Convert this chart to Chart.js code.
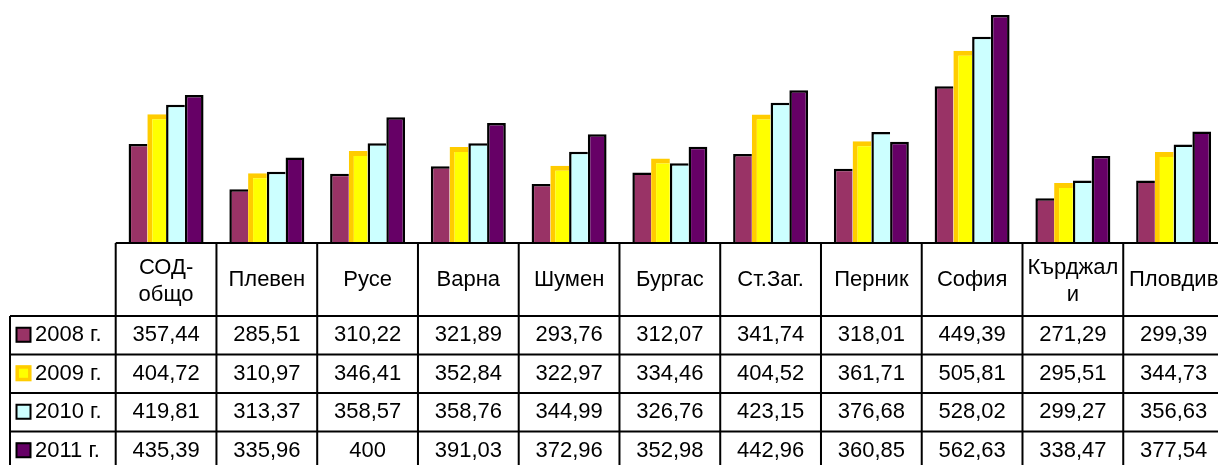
<!DOCTYPE html>
<html>
<head>
<meta charset="utf-8">
<script src="https://cdn.jsdelivr.net/npm/chart.js@4"></script>
<style>
html, body { margin:0; padding:0; background:#fff; overflow:hidden; }
#wrap { width:1226px; height:465px; }
</style>
</head>
<body>
<div id="wrap"><canvas id="chartSOD" width="1226" height="465"></canvas></div>
<script>
var categories = [['СОД-', 'общо'], 'Плевен', 'Русе', 'Варна', 'Шумен', 'Бургас', 'Ст.Заг.', 'Перник', 'София', ['Кърджал', 'и'], 'Пловдив'];
var seriesNames = ['2008 г.', '2009 г.', '2010 г.', '2011 г.'];
var v2008 = [357.44, 285.51, 310.22, 321.89, 293.76, 312.07, 341.74, 318.01, 449.39, 271.29, 299.39];
var v2009 = [404.72, 310.97, 346.41, 352.84, 322.97, 334.46, 404.52, 361.71, 505.81, 295.51, 344.73];
var v2010 = [419.81, 313.37, 358.57, 358.76, 344.99, 326.76, 423.15, 376.68, 528.02, 299.27, 356.63];
var v2011 = [435.39, 335.96, 400, 391.03, 372.96, 352.98, 442.96, 360.85, 562.63, 338.47, 377.54];

var FONT = '22px "Liberation Sans", Arial, sans-serif';

// table under the bars, columns follow the x scale
var dataTable = {
  id: 'dataTable',
  afterDraw: function(chart){
    var ctx = chart.ctx;
    var xs = chart.scales.x;
    var step = xs.getPixelForValue(1) - xs.getPixelForValue(0);
    var top = chart.chartArea.bottom;
    var rows = [top, 316, 354.5, 393, 431.5, 470];
    var first = xs.getPixelForValue(0) - step/2;
    var last = xs.getPixelForValue(categories.length - 1) + step/2;
    ctx.save();
    ctx.strokeStyle = '#000';
    ctx.lineWidth = 2;
    ctx.beginPath();
    ctx.moveTo(first, rows[0]); ctx.lineTo(last, rows[0]);
    for (var r = 1; r < rows.length; r++){
      ctx.moveTo(10, rows[r]); ctx.lineTo(last, rows[r]);
    }
    ctx.moveTo(10, rows[1]); ctx.lineTo(10, rows[5]);
    for (var c = 0; c <= categories.length; c++){
      var bx = first + c*step;
      ctx.moveTo(bx, rows[0]); ctx.lineTo(bx, rows[5]);
    }
    ctx.stroke();

    ctx.fillStyle = '#000';
    ctx.font = FONT;
    ctx.textAlign = 'center';
    ctx.textBaseline = 'middle';
    categories.forEach(function(lab, i){
      var cx = xs.getPixelForValue(i);
      if (Array.isArray(lab)){
        ctx.fillText(lab[0], cx, 268);
        ctx.fillText(lab[1], cx, 295);
      } else {
        ctx.fillText(lab, cx, 280);
      }
    });
    chart.data.datasets.forEach(function(ds, d){
      var cy = (rows[d+1] + rows[d+2]) / 2;
      ds.data.forEach(function(v, i){
        ctx.fillStyle = '#000';
        ctx.textAlign = 'center';
        ctx.fillText(String(v).replace('.', ','), xs.getPixelForValue(i), cy);
      });
      // legend key
      ctx.fillStyle = ds.backgroundColor;
      ctx.fillRect(16, cy - 8, 15, 15);
      ctx.strokeStyle = ds.borderColor;
      ctx.lineWidth = d == 1 ? 3.5 : 2;
      ctx.strokeRect(16.5 + (d == 1 ? 0.7 : 0), cy - 7.5 + (d == 1 ? 0.7 : 0), 14 - (d == 1 ? 1.4 : 0), 14 - (d == 1 ? 1.4 : 0));
      ctx.fillStyle = '#000';
      ctx.textAlign = 'left';
      ctx.fillText(ds.label, 35, cy);
    });
    ctx.restore();
  }
};

var ctx = document.getElementById('chartSOD').getContext('2d');
var chartSOD = new Chart(ctx, {
  type: 'bar',
  data: {
    labels: categories,
    datasets: [{
      label: seriesNames[0],
      data: v2008,
      backgroundColor: '#993366',
      borderColor: '#000000',
      borderWidth: {left: 2.5, top: 2.5, right: 0, bottom: 0}
    }, {
      label: seriesNames[1],
      data: v2009,
      backgroundColor: '#FFFF00',
      borderColor: '#FFCC00',
      borderWidth: {left: 5, top: 5, right: 0, bottom: 0}
    }, {
      label: seriesNames[2],
      data: v2010,
      backgroundColor: '#CCFFFF',
      borderColor: '#000000',
      borderWidth: {left: 2.5, top: 2.5, right: 0, bottom: 0}
    }, {
      label: seriesNames[3],
      data: v2011,
      backgroundColor: '#660066',
      borderColor: '#000000',
      borderWidth: {left: 2.5, top: 2.5, right: 2.5, bottom: 0}
    }]
  },
  options: {
    responsive: false,
    animation: false,
    devicePixelRatio: 1,
    layout: { padding: {left: 115.7, right: 2, top: 0, bottom: 222} },
    categoryPercentage: 0.744,
    barPercentage: 1,
    scales: {
      x: { display: false },
      y: { display: false, min: 200, max: 586.5 }
    },
    plugins: {
      legend: { display: false },
      tooltip: { enabled: false }
    }
  },
  plugins: [dataTable]
});
</script>
</body>
</html>
